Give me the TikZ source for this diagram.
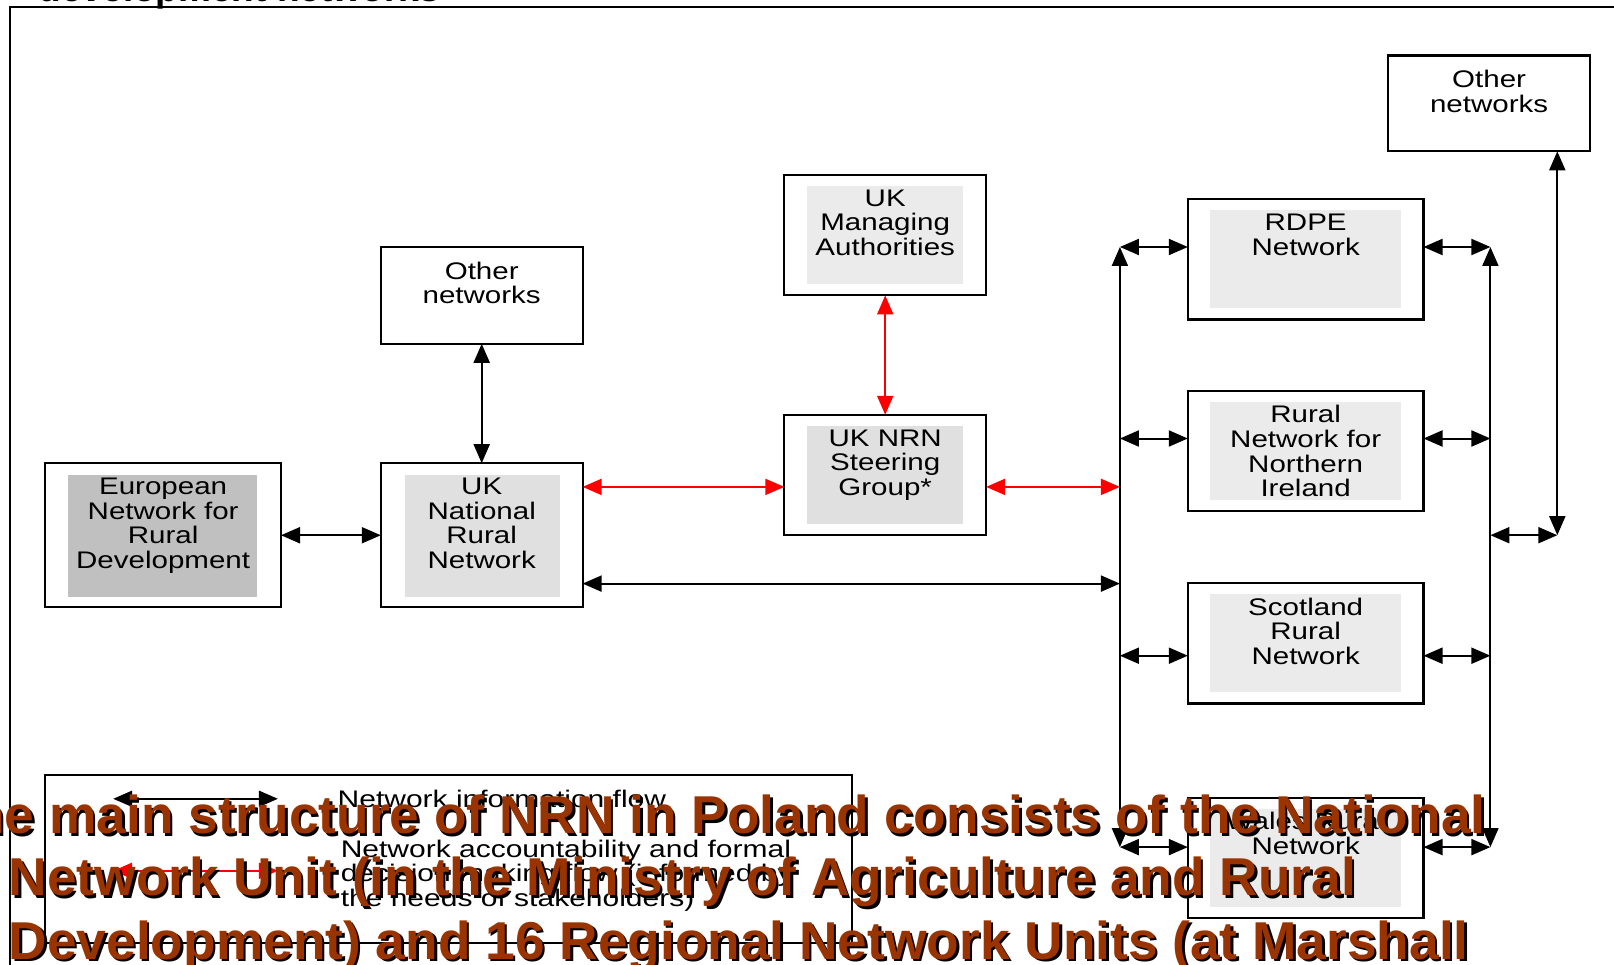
\documentclass[tikz,border=0pt]{standalone}
\usepackage{fontspec}
\setmainfont{Liberation Sans}
\newfontfamily\wsans[FakeStretch=1.23]{Liberation Sans}
\newfontfamily\lsans[FakeStretch=1.25]{Liberation Sans}
\usetikzlibrary{arrows.meta,calc}
\definecolor{gA}{HTML}{C0C0C0}
\definecolor{gB}{HTML}{E0E0E0}
\definecolor{gC}{HTML}{EBEBEB}
\definecolor{brownT}{HTML}{993300}
\begin{document}
\begin{tikzpicture}[x=1pt,y=-1pt,
  box/.style={draw, line width=2.2pt, inner sep=0pt, outer sep=0pt, minimum width=201.8pt, minimum height=120.4pt},
  wbox/.style={box, minimum width=235.7pt},
  txt/.style={font=\wsans\fontsize{24}{24.7}\selectfont, align=center, inner sep=0pt, anchor=north},
  ltxt/.style={font=\lsans\fontsize{24}{24.7}\selectfont, align=left, inner sep=0pt, anchor=north west},
  flow/.style={{Triangle[length=19pt,width=16pt]}-{Triangle[length=19pt,width=16pt]}, line width=2pt, black},
  acc/.style={flow, red},
  ov/.style={font=\bfseries\fontsize{53.3}{64}\selectfont, inner sep=0pt},
]
\useasboundingbox (0,0) rectangle (1614,965);
\clip (0,0) rectangle (1614,965);

% cut-off title and frame
\node[font=\bfseries\fontsize{37}{40}\selectfont, anchor=base west, inner sep=0pt] (title) at (38.5,1.5) {development networks};
\draw[line width=2pt] (10,990) -- (10,7.5) -- (1640,7.5);

% boxes
\node[wbox, minimum height=144.1pt] (eu) at (163.15,535.25) {};
\fill[gA] ($(eu.north west)+(22.6,11.3)$) rectangle ($(eu.south east)+(-23.7,-10.3)$);
\node[txt] (eut) at ($(eu.north)+(0,14.5)$) {European\\Network for\\Rural\\Development};

\node[box, minimum height=144.1pt] (uknrn) at (481.7,535.25) {};
\fill[gB] ($(uknrn.north west)+(23.7,11.3)$) rectangle ($(uknrn.south east)+(-22.6,-10.3)$);
\node[txt] (uknrnt) at ($(uknrn.north)+(0,14.5)$) {UK\\National\\Rural\\Network};

\node[box, minimum height=96.8pt] (othL) at (481.7,295.4) {};
\node[txt] (othLt) at ($(othL.north)+(0,14.5)$) {Other\\networks};

\node[box] (man) at (885.2,235.2) {};
\fill[gC] ($(man.north west)+(22.7,11.3)$) rectangle ($(man.south east)+(-22.7,-11.3)$);
\node[txt] (mant) at ($(man.north)+(0,14.5)$) {UK\\Managing\\Authorities};

\node[box] (steer) at (885.2,475) {};
\fill[gB] ($(steer.north west)+(22.7,11.3)$) rectangle ($(steer.south east)+(-22.7,-11.3)$);
\node[txt] (steert) at ($(steer.north)+(0,14.5)$) {UK NRN\\Steering\\Group*};

\node[wbox] (rdpe) at (1305.65,259.4) {};
\fill[gC] ($(rdpe.north west)+(22.6,11.3)$) rectangle ($(rdpe.south east)+(-22.6,-11.3)$);
\node[txt] (rdpet) at ($(rdpe.north)+(0,14.5)$) {RDPE\\Network};

\node[wbox] (ni) at (1305.65,450.8) {};
\fill[gC] ($(ni.north west)+(22.6,11.3)$) rectangle ($(ni.south east)+(-22.6,-11.3)$);
\node[txt] (nit) at ($(ni.north)+(0,14.5)$) {Rural\\Network for\\Northern\\Ireland};

\node[wbox] (scot) at (1305.65,643.3) {};
\fill[gC] ($(scot.north west)+(22.6,11.3)$) rectangle ($(scot.south east)+(-22.6,-11.3)$);
\node[txt] (scott) at ($(scot.north)+(0,14.5)$) {Scotland\\Rural\\Network};

\node[wbox] (wales) at (1305.65,857.9) {};
\fill[gC] ($(wales.north west)+(22.6,11.3)$) rectangle ($(wales.south east)+(-22.6,-11.3)$);
\node[txt] (walest) at ($(wales.north)+(0,14.5)$) {Wales Rural\\Network};

\node[box, minimum height=95.7pt] (othR) at (1489.1,103.45) {};
\node[txt] (othRt) at ($(othR.north)+(0,14.5)$) {Other\\networks};

% bus points
\coordinate (l1) at (1119.9,247);
\coordinate (l2) at (1119.9,438.5);
\coordinate (l3) at (1119.9,655.7);
\coordinate (l4) at (1119.9,847.1);
\coordinate (r1) at (1490.4,247);
\coordinate (r2) at (1490.4,438.5);
\coordinate (r3) at (1490.4,655.7);
\coordinate (r4) at (1490.4,847.1);
\coordinate (lr) at (1119.9,486.9);
\coordinate (lk) at (1119.9,583.6);
\coordinate (rm) at (1490.4,535.2);
\coordinate (fr) at (1557.3,535.2);

% connectors
\draw[flow] (l4) -- (l1);
\draw[flow] (r4) -- (r1);
\foreach \i/\b in {1/rdpe,2/ni,3/scot,4/wales}{
  \draw[flow] (l\i) -- (\b.west |- l\i);
  \draw[flow] (\b.east |- r\i) -- (r\i);
}
\draw[flow] (rm) -- (fr);
\draw[flow] (fr) -- (othR.south -| fr);
\draw[flow] (eu) -- (uknrn);
\draw[flow] (othL) -- (uknrn);
\draw[acc] (man) -- (steer);
\draw[acc] (uknrn.east |- lr) -- (steer.west |- lr);
\draw[acc] (steer.east |- lr) -- (lr);
\draw[flow] (uknrn.east |- lk) -- (lk);

% legend
\node[draw, line width=2pt, inner sep=0pt, outer sep=0pt, minimum width=807pt, minimum height=167.8pt] (leg) at (448.8,859) {};
\coordinate (la1) at (113.2,798.8);
\coordinate (la2) at (277.9,798.8);
\coordinate (lb1) at (113.2,870.8);
\coordinate (lb2) at (277.9,870.8);
\draw[flow] (la1) -- (la2);
\draw[acc] (lb1) -- (lb2);
\node[ltxt] (lt1) at (337.5,790.1) {Network information flow};
\node[ltxt] (lt2) at (340.6,839.5) {Network accountability and formal\\decision making flow (informed by\\the needs of stakeholders)};

% overlay text with shadow
\node[ov, anchor=base east, text=black] (o1s) at (1488.2,836.2) {The main structure of NRN in Poland consists of the National};
\node[ov, anchor=base east, text=brownT] (o1) at (1485.7,833.7) {The main structure of NRN in Poland consists of the National};
\node[ov, anchor=base west, text=black] (o2s) at (11,898) {Network Unit (in the Ministry of Agriculture and Rural};
\node[ov, anchor=base west, text=brownT] (o2) at (8.5,895.5) {Network Unit (in the Ministry of Agriculture and Rural};
\node[ov, anchor=base west, text=black] (o3s) at (11,961.8) {Development) and 16 Regional Network Units (at Marshall};
\node[ov, anchor=base west, text=brownT] (o3) at (8.5,959.3) {Development) and 16 Regional Network Units (at Marshall};
\end{tikzpicture}
\end{document}
